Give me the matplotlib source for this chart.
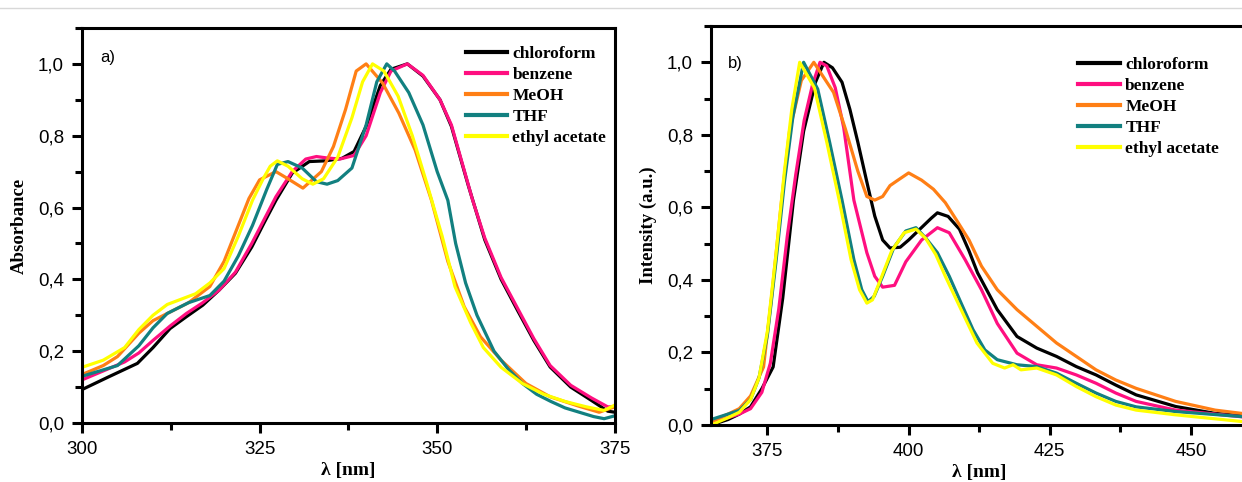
import matplotlib
matplotlib.use('Agg')
from matplotlib import pyplot as plt
from matplotlib.lines import Line2D
from matplotlib.ticker import MultipleLocator, FuncFormatter

solvents = ['chloroform', 'benzene', 'MeOH', 'THF', 'ethyl acetate']
colors = ['#000000', '#ff0f80', '#ff7f15', '#128080', '#ffff00']

# a) absorbance, values
abs_chloroform_x = [300, 303.7, 307.8, 310, 312.4, 314.7, 317, 319.3, 321.6, 323.9, 325.6, 327.3, 329.6, 332, 334.3,
                    336.6, 338.3, 340, 342, 343.5, 345.8, 348, 350.4, 352, 354.4, 356.7, 359, 361.3, 363.6, 365.9,
                    368.8, 371.7, 374, 375]
abs_chloroform_y = [0.093, 0.128, 0.166, 0.21, 0.263, 0.296, 0.328, 0.37, 0.417, 0.49, 0.556, 0.62, 0.696, 0.728, 0.73,
                    0.737, 0.756, 0.826, 0.94, 0.985, 1.0, 0.966, 0.9, 0.826, 0.66, 0.51, 0.4, 0.314, 0.23, 0.156,
                    0.1, 0.063, 0.033, 0.03]
abs_benzene_x = [300, 303, 306, 308, 310, 312.4, 314.7, 317, 319.3, 321.6, 323.9, 325.6, 327.3, 329.6, 331.5, 333,
                 334.5, 336.3, 338.3, 340, 342, 343.5, 345.8, 348, 350.4, 352, 355, 356.7, 359, 361.3, 363.6, 365.9,
                 368.8, 371.7, 374, 375]
abs_benzene_y = [0.12, 0.145, 0.17, 0.195, 0.23, 0.27, 0.305, 0.335, 0.37, 0.42, 0.5, 0.565, 0.63, 0.7, 0.735, 0.742,
                 0.738, 0.735, 0.745, 0.8, 0.92, 0.98, 1.0, 0.968, 0.9, 0.83, 0.62, 0.515, 0.405, 0.32, 0.235, 0.16,
                 0.105, 0.07, 0.045, 0.045]
abs_meoh_x = [300, 303, 305, 308, 310, 312, 315, 318, 320, 322, 323.5, 325, 327.3, 329, 331.1, 333.7, 335.4, 337.1,
              338.6, 340, 342.3, 344.6, 346.9, 349.2, 351.5, 353.8, 356.1, 359, 362.5, 365.9, 369.9, 372.8, 375]
abs_meoh_y = [0.135, 0.16, 0.185, 0.25, 0.285, 0.305, 0.335, 0.38, 0.45, 0.55, 0.625, 0.677, 0.7, 0.68, 0.654, 0.7, 0.77,
              0.873, 0.98, 1.0, 0.947, 0.863, 0.76, 0.62, 0.45, 0.324, 0.24, 0.175, 0.11, 0.073, 0.047, 0.03, 0.045]
abs_thf_x = [300, 305, 308, 310, 312, 315, 318, 320, 322, 324, 326, 327.5, 329, 331, 333, 334.5, 336, 338, 340, 341.5,
             342.9, 344, 346, 348, 350, 351.5, 352.6, 354, 355.6, 358, 360, 362, 364, 366, 368, 370, 372, 373.5, 375]
abs_thf_y = [0.13, 0.16, 0.215, 0.265, 0.305, 0.335, 0.355, 0.395, 0.465, 0.55, 0.65, 0.72, 0.728, 0.71, 0.672, 0.665,
             0.675, 0.71, 0.83, 0.95, 1.0, 0.98, 0.92, 0.83, 0.7, 0.62, 0.5, 0.39, 0.3, 0.2, 0.15, 0.11, 0.08, 0.06,
             0.042, 0.03, 0.018, 0.012, 0.02]
abs_ethyl_x = [300, 303, 306, 308, 310, 312, 314, 316, 318, 320, 322, 324, 325.5, 326.5, 327.5, 329, 331, 332.5, 334,
               336, 338, 339.5, 340.9, 342.5, 344.5, 346.5, 348.5, 350.7, 352.5, 354.7, 356.5, 359, 362, 365, 368,
               371, 373.5, 375]
abs_ethyl_y = [0.155, 0.175, 0.21, 0.26, 0.3, 0.33, 0.345, 0.36, 0.39, 0.43, 0.52, 0.62, 0.68, 0.715, 0.73, 0.715,
               0.68, 0.665, 0.68, 0.74, 0.85, 0.95, 1.0, 0.98, 0.91, 0.8, 0.67, 0.52, 0.38, 0.28,
               0.21, 0.155, 0.11, 0.08, 0.06, 0.045, 0.035, 0.05]

# b) emission intensity
em_chloroform_x = [365, 368, 370, 372, 374, 376, 377.7, 379.6, 381.4, 383.5, 385, 386.5, 388.2, 389.6, 391, 392.6,
                   394, 395.4, 396.7, 398.5, 400, 402, 404, 405.1, 407, 409, 410.7, 412.2, 415.7, 419.2, 422.7,
                   426.2, 429.7, 433.2, 436.7, 440.3, 447.3, 454.3, 460]
em_chloroform_y = [0.0, 0.015, 0.03, 0.05, 0.1, 0.16, 0.35, 0.62, 0.81, 0.945, 1.0, 0.985, 0.945, 0.87, 0.78, 0.67,
                   0.576, 0.51, 0.488, 0.49, 0.51, 0.54, 0.57, 0.585, 0.575, 0.54, 0.48, 0.42, 0.318, 0.244, 0.212,
                   0.189, 0.161, 0.138, 0.11, 0.083, 0.051, 0.032, 0.024]
em_benzene_x = [365, 368, 370, 372, 374, 375.5, 377, 378.5, 380, 381.5, 383, 384.3, 385.5, 387, 388.5, 390.3, 392.6,
                394, 395.4, 397.5, 399.5, 402.3, 405.1, 407.2, 410, 412.9, 415.7, 419.2, 422.7, 426.2, 429.7, 433.2,
                436.7, 440.3, 447.3, 460]
em_benzene_y = [0.005, 0.02, 0.03, 0.045, 0.09, 0.17, 0.32, 0.52, 0.69, 0.84, 0.94, 1.0, 0.99, 0.93, 0.82, 0.62,
                0.475, 0.41, 0.38, 0.385, 0.45, 0.51, 0.544, 0.53, 0.456, 0.373, 0.28, 0.198, 0.166, 0.157, 0.138,
                0.115, 0.088, 0.065, 0.041, 0.021]
em_meoh_x = [365, 368, 370, 372, 374.3, 375.7, 377.5, 378.9, 381, 383.2, 386.7, 388.8, 391, 392.6, 394, 395.4, 396.7,
             398.1, 400, 402.3, 404.4, 406.5, 408.6, 410.7, 412.9, 415.7, 419.2, 422.7, 426.2, 429.7, 433.2, 436.7,
             440.3, 447.3, 454.3, 460]
em_meoh_y = [0.01, 0.03, 0.045, 0.08, 0.16, 0.35, 0.62, 0.81, 0.95, 1.0, 0.917, 0.816, 0.7, 0.63, 0.62, 0.63, 0.66,
             0.675, 0.695, 0.675, 0.65, 0.613, 0.562, 0.51, 0.438, 0.373, 0.318, 0.272, 0.226, 0.189, 0.152, 0.124,
             0.101, 0.065, 0.041, 0.03]
em_thf_x = [365, 368, 370, 372, 373.5, 375, 376.5, 378, 379.5, 381.4, 383.9, 386, 388.2, 390.3, 391.7, 392.8, 393.9,
            395.4, 397.4, 399.5, 401.3, 403, 405.1, 407.2, 409.3, 411.4, 413.5, 415.7, 419.2, 422.7, 426.2, 429.7,
            433.2, 436.7, 440.3, 447.3, 460]
em_thf_y = [0.015, 0.03, 0.04, 0.07, 0.13, 0.25, 0.45, 0.67, 0.85, 1.0, 0.926, 0.78, 0.62, 0.456, 0.373, 0.34, 0.355,
            0.41, 0.49, 0.535, 0.544, 0.516, 0.475, 0.41, 0.336, 0.263, 0.207, 0.18, 0.166, 0.161, 0.143, 0.115,
            0.088, 0.065, 0.05, 0.037, 0.022]
em_ethyl_x = [365, 368, 370, 372, 373.5, 375, 376.5, 378, 379.3, 380.7, 383.3, 385.5, 387.7, 389.8, 391.3, 392.6,
              393.6, 395, 397, 399.2, 401.3, 403, 404.8, 406.5, 409.3, 412.1, 414.9, 417, 418.5, 419.9, 422.7,
              426.2, 429.7, 433.2, 436.7, 440.3, 447.3, 460]
em_ethyl_y = [0.0, 0.02, 0.035, 0.07, 0.13, 0.26, 0.47, 0.7, 0.87, 1.0, 0.93, 0.78, 0.62, 0.456, 0.373, 0.336, 0.345,
              0.4, 0.48, 0.53, 0.54, 0.515, 0.47, 0.41, 0.318, 0.226, 0.17, 0.157, 0.166, 0.152, 0.157, 0.138,
              0.106, 0.078, 0.055, 0.041, 0.028, 0.008]

abs_data = [(abs_chloroform_x, abs_chloroform_y), (abs_benzene_x, abs_benzene_y), (abs_meoh_x, abs_meoh_y),
            (abs_thf_x, abs_thf_y), (abs_ethyl_x, abs_ethyl_y)]
em_data = [(em_chloroform_x, em_chloroform_y), (em_benzene_x, em_benzene_y), (em_meoh_x, em_meoh_y),
           (em_thf_x, em_thf_y), (em_ethyl_x, em_ethyl_y)]

tick_font = ['Liberation Sans Narrow', 'Liberation Sans', 'DejaVu Sans']
serif_font = ['Liberation Serif', 'DejaVu Serif']


def style_axis(ax, xlim, xmajor, ylabel):
    ax.set_xlim(*xlim)
    ax.set_ylim(0, 1.1)
    ax.xaxis.set_major_locator(MultipleLocator(xmajor))
    ax.xaxis.set_minor_locator(MultipleLocator(xmajor / 2))
    ax.yaxis.set_major_locator(MultipleLocator(0.2))
    ax.yaxis.set_minor_locator(MultipleLocator(0.1))
    ax.yaxis.set_major_formatter(FuncFormatter(lambda v, p: ('%.1f' % v).replace('.', ',')))
    for s in ax.spines.values():
        s.set_linewidth(2.2)
    ax.tick_params(which='major', direction='out', length=7, width=2.2, pad=6, labelsize=13.5)
    ax.tick_params(which='minor', direction='out', length=5, width=2.2)
    for lab in ax.get_xticklabels() + ax.get_yticklabels():
        lab.set_family(tick_font)
    ax.set_xlabel('λ [nm]', family=serif_font, fontweight='bold', fontsize=14, labelpad=3)
    ax.set_ylabel(ylabel, family=serif_font, fontweight='bold', fontsize=13.5, labelpad=7)


fig = plt.figure(figsize=(12.42, 4.82), dpi=100)
fig.add_artist(Line2D([0, 1], [0.984, 0.984], color='#d8d8d8', lw=1))

ax1 = fig.add_axes([0.066, 0.1224, 0.429, 0.8196])
ax2 = fig.add_axes([0.5725, 0.1183, 0.4318, 0.8277])

for ax, data in ((ax1, abs_data), (ax2, em_data)):
    for (x, y), name, c in zip(data, solvents, colors):
        ax.plot(x, y, color=c, lw=2.3, label=name, solid_joinstyle='round')

style_axis(ax1, (300, 375), 25, 'Absorbance')
style_axis(ax2, (365, 460), 25, 'Intensity (a.u.)')

ax1.text(0.034, 0.924, 'a)', transform=ax1.transAxes, fontsize=12, va='center', family=tick_font)
ax2.text(0.032, 0.907, 'b)', transform=ax2.transAxes, fontsize=12, va='center', family=tick_font)

for ax, anchor in ((ax1, (0.72, 0.955)), (ax2, (0.685, 0.922))):
    leg = ax.legend(loc='upper left', bbox_to_anchor=anchor, frameon=False, borderpad=0, borderaxespad=0,
                    handlelength=2.4, handletextpad=0.3, labelspacing=0.28,
                    prop={'family': serif_font, 'weight': 'bold', 'size': 12.5})
    for h in leg.get_lines():
        h.set_linewidth(3)

fig.savefig('out.png', dpi=100)
